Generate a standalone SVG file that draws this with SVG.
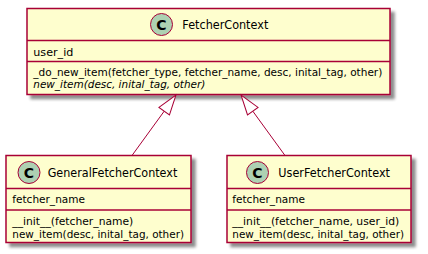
<svg xmlns="http://www.w3.org/2000/svg" width="428" height="254" viewBox="0 0 428 254">
  <defs>
    <filter id="shadow" x="-10%" y="-10%" width="130%" height="140%">
      <feGaussianBlur in="SourceAlpha" stdDeviation="1.8" result="blur"/>
      <feOffset in="blur" dx="4" dy="4" result="off"/>
      <feComponentTransfer in="off" result="soft">
        <feFuncA type="linear" slope="0.45"/>
      </feComponentTransfer>
      <feMerge>
        <feMergeNode in="soft"/>
        <feMergeNode in="SourceGraphic"/>
      </feMerge>
    </filter>
    <!-- hollow triangle for generalization -->
    <marker id="extends" markerUnits="userSpaceOnUse" markerWidth="24" markerHeight="16" refX="1" refY="7" orient="auto" overflow="visible">
      <path d="M1,0.5 L21,7 L1,13.5 Z" fill="#FFFFFF" stroke="#A80036" stroke-width="1"/>
    </marker>
  </defs>
  <style>
    .box { fill: #FEFECE; stroke: #A80036; stroke-width: 1.5; }
    .sep { stroke: #A80036; stroke-width: 1.5; }
    .badge { fill: #ADD1B2; stroke: #A80036; stroke-width: 1; }
    .badgeText { font-family: "DejaVu Sans", "Liberation Sans", sans-serif; font-size: 14px; font-weight: bold; fill: #000000; text-anchor: middle; }
    .name { font-family: "DejaVu Sans", "Liberation Sans", sans-serif; font-size: 11.5px; fill: #000000; }
    .member { font-family: "DejaVu Sans", "Liberation Sans", sans-serif; font-size: 11px; fill: #000000; }
    .abstract { font-style: italic; }
    .link { fill: none; stroke: #A80036; stroke-width: 1; }
  </style>

  <g id="FetcherContext">
    <rect class="box" x="27" y="8.5" width="363" height="86" filter="url(#shadow)"/>
    <circle class="badge" cx="161.5" cy="24.5" r="11"/>
    <text class="badgeText" x="161.5" y="29.5">C</text>
    <text class="name" x="182.3" y="29" textLength="86" lengthAdjust="spacingAndGlyphs">FetcherContext</text>
    <line class="sep" x1="27" y1="40.5" x2="390" y2="40.5"/>
    <text class="member" x="33.3" y="55.5" textLength="40" lengthAdjust="spacingAndGlyphs">user_id</text>
    <line class="sep" x1="27" y1="61.5" x2="390" y2="61.5"/>
    <text class="member" x="33.3" y="75.5" textLength="349" lengthAdjust="spacingAndGlyphs">_do_new_item(fetcher_type, fetcher_name, desc, inital_tag, other)</text>
    <text class="member abstract" x="33.3" y="88" textLength="172" lengthAdjust="spacingAndGlyphs">new_item(desc, inital_tag, other)</text>
  </g>

  <g id="GeneralFetcherContext">
    <rect class="box" x="6" y="155.5" width="185" height="87" filter="url(#shadow)"/>
    <circle class="badge" cx="29" cy="172.5" r="11"/>
    <text class="badgeText" x="29" y="177.5">C</text>
    <text class="name" x="47.7" y="177" textLength="129.6" lengthAdjust="spacingAndGlyphs">GeneralFetcherContext</text>
    <line class="sep" x1="6" y1="188.5" x2="191" y2="188.5"/>
    <text class="member" x="12.3" y="203.3" textLength="72.7" lengthAdjust="spacingAndGlyphs">fetcher_name</text>
    <line class="sep" x1="6" y1="210" x2="191" y2="210"/>
    <text class="member" x="12.3" y="224.5" textLength="121" lengthAdjust="spacingAndGlyphs">__init__(fetcher_name)</text>
    <text class="member" x="12.3" y="237.5" textLength="171.7" lengthAdjust="spacingAndGlyphs">new_item(desc, inital_tag, other)</text>
  </g>

  <g id="UserFetcherContext">
    <rect class="box" x="227" y="155.5" width="184" height="87" filter="url(#shadow)"/>
    <circle class="badge" cx="257.5" cy="172.5" r="11"/>
    <text class="badgeText" x="257.5" y="177.5">C</text>
    <text class="name" x="278.3" y="177" textLength="111.7" lengthAdjust="spacingAndGlyphs">UserFetcherContext</text>
    <line class="sep" x1="227" y1="188.5" x2="411" y2="188.5"/>
    <text class="member" x="232.3" y="203.3" textLength="72.7" lengthAdjust="spacingAndGlyphs">fetcher_name</text>
    <line class="sep" x1="227" y1="210" x2="411" y2="210"/>
    <text class="member" x="232.3" y="224.5" textLength="167" lengthAdjust="spacingAndGlyphs">__init__(fetcher_name, user_id)</text>
    <text class="member" x="232.3" y="237.5" textLength="171.7" lengthAdjust="spacingAndGlyphs">new_item(desc, inital_tag, other)</text>
  </g>

  <g id="connectors">
    <!-- GeneralFetcherContext extends FetcherContext -->
    <path class="link" d="M132,155.5 L164.2,111.2" marker-end="url(#extends)"/>
    <!-- UserFetcherContext extends FetcherContext -->
    <path class="link" d="M285,155.5 L252.8,111.2" marker-end="url(#extends)"/>
  </g>
</svg>
